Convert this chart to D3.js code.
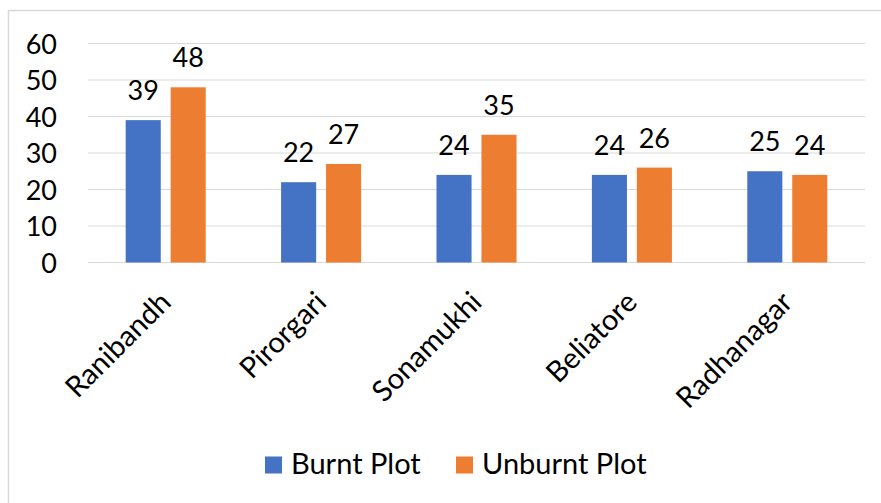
<!DOCTYPE html>
<html>
<head>
<meta charset="utf-8">
<script src="https://cdn.jsdelivr.net/npm/d3@7"></script>
<style>
  body { margin: 0; background: #fff; }
  svg text { font-family: Lato, "Open Sans", sans-serif; fill: #000; }
</style>
</head>
<body>
<div id="chart"></div>
<script>
// Site data
const sites = ['Ranibandh', 'Pirorgari', 'Sonamukhi', 'Beliatore', 'Radhanagar'];
const burnt = [39, 22, 24, 24, 25];
const unburnt = [48, 27, 35, 26, 24];
const seriesNames = ['Burnt Plot', 'Unburnt Plot'];
const yTicks = [0, 10, 20, 30, 40, 50, 60];

const colors = ['#4472C4', '#ED7D31'];

const W = 881, H = 503;
const margin = { top: 43.5, right: 16, bottom: 240.5, left: 88 };
const width = W - margin.left - margin.right;
const height = H - margin.top - margin.bottom;

const svg = d3.select('#chart').append('svg')
  .attr('width', W)
  .attr('height', H);

// chart border (only top and left visible in the frame)
svg.append('rect')
  .attr('x', 8.5).attr('y', 10.5)
  .attr('width', W + 20).attr('height', H + 20)
  .attr('fill', 'none')
  .attr('stroke', '#d9d9d9')
  .attr('stroke-width', 1.5);

const g = svg.append('g')
  .attr('transform', `translate(${margin.left},${margin.top})`);

const x0 = d3.scaleBand()
  .domain(sites)
  .range([0, width])
  .paddingInner(0.485)
  .paddingOuter(0.2425);

const x1 = d3.scaleBand()
  .domain(seriesNames)
  .range([0, x0.bandwidth()])
  .paddingInner(0.22);

const y = d3.scaleLinear()
  .domain([0, 60])
  .range([height, 0]);

// gridlines
g.selectAll('.grid')
  .data(yTicks)
  .enter()
  .append('line')
  .attr('x1', 0)
  .attr('x2', width)
  .attr('y1', d => y(d))
  .attr('y2', d => y(d))
  .attr('stroke', '#d9d9d9')
  .attr('stroke-width', 1.2);

// y axis labels
const yAxis = g.append('g')
  .call(d3.axisLeft(y).tickValues(yTicks).tickSize(0).tickPadding(31));
yAxis.select('.domain').remove();
yAxis.selectAll('text')
  .style('font-size', '27px')
  .style('font-family', 'Lato, "Open Sans", sans-serif')
  .attr('dy', '0.36em');

const rows = sites.map((s, i) => ({ site: s, values: [burnt[i], unburnt[i]] }));

const groups = g.selectAll('.grp')
  .data(rows)
  .enter()
  .append('g')
  .attr('transform', d => `translate(${x0(d.site)},0)`);

groups.selectAll('rect')
  .data(d => d.values.map((v, j) => ({ name: seriesNames[j], value: v, j })))
  .enter()
  .append('rect')
  .attr('x', d => x1(d.name))
  .attr('y', d => y(d.value))
  .attr('width', x1.bandwidth())
  .attr('height', d => height - y(d.value))
  .attr('fill', d => colors[d.j]);

groups.selectAll('.val')
  .data(d => d.values.map((v, j) => ({ name: seriesNames[j], value: v, j })))
  .enter()
  .append('text')
  .attr('class', 'val')
  .attr('x', d => x1(d.name) + x1.bandwidth() / 2)
  .attr('y', d => y(d.value) - 20)
  .attr('text-anchor', 'middle')
  .style('font-size', '27px')
  .text(d => d.value);

// x axis labels rotated
g.selectAll('.xlab')
  .data(sites)
  .enter()
  .append('text')
  .attr('class', 'xlab')
  .attr('text-anchor', 'end')
  .attr('transform', d => `translate(${x0(d) + x0.bandwidth() / 2 + 7},${height + 41.5}) rotate(-45)`)
  .style('font-size', '29px')
  .text(d => d);

// legend
const legendItems = [
  { name: seriesNames[0], color: colors[0], x: 265 },
  { name: seriesNames[1], color: colors[1], x: 456 }
];
const legend = svg.selectAll('.leg')
  .data(legendItems)
  .enter()
  .append('g')
  .attr('transform', d => `translate(${d.x},456.5)`);
legend.append('rect')
  .attr('width', 17).attr('height', 17)
  .attr('fill', d => d.color);
legend.append('text')
  .attr('x', 26)
  .attr('y', 17)
  .style('font-size', '29px')
  .text(d => d.name);
</script>
</body>
</html>
